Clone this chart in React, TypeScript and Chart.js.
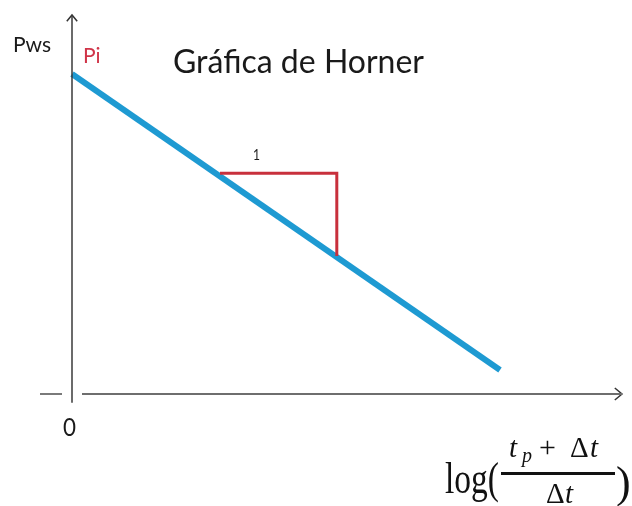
import React, { useEffect, useRef } from "react";
import { Chart, registerables } from "chart.js";

Chart.register(...registerables);

// Data units: 1 unit = 40 px on both axes, origin at the axes crossing
const X_RANGE = [-1.8, 14.0];
const Y_RANGE = [-2.8, 9.85];

// Horner straight line: Pws vs log((tp+Δt)/Δt)
const hornerX = [0, 10.7];
const hornerY = [8.0, 0.6];

// Slope triangle (red)
const triX = [3.7, 6.62, 6.62];
const triY = [5.52, 5.52, 3.45];

// Axes
const yAxisX = [0, 0];
const yAxisY = [-0.22, 9.475];
const yArrowX = [-0.13, 0, 0.13];
const yArrowY = [9.32, 9.475, 9.32];
const xAxisLeftX = [-0.8, -0.25];
const xAxisRightX = [0.25, 13.75];
const xAxisY = [0, 0];
const xArrowX = [13.57, 13.75, 13.57];
const xArrowY = [0.15, 0, -0.15];

// Text labels (anchored at data coordinates)
const labelTexts = ["Pws", "Pi", "Gráfica de Horner", "1", "0"];
const labelX = [-1.475, 0.275, 2.525, 4.525, -0.225];
const labelY = [8.55, 8.275, 8.025, 5.85, -1.05];
const formulaAnchor = [9.325, -2.475];

const zip = (xs: number[], ys: number[]) => xs.map((x, i) => ({ x, y: ys[i] }));

const BLUE = "rgb(30,154,210)";
const RED = "rgb(200,48,60)";

export default function App() {
  const ref = useRef<HTMLCanvasElement>(null);
  useEffect(() => {
    if (!ref.current) return;
    const labelStyles = [
      { font: "21px Lato", color: "#1a1a1a", w: 42 },
      { font: "21px Lato", color: "rgb(208,52,72)", w: 19 },
      { font: "32px Lato", color: "#1a1a1a", w: 269 },
      { font: "15px Lato", color: "#1a1a1a", w: 7 },
      { font: "25px Lato", color: "#1a1a1a", w: 13 },
    ];
    const textPlugin = {
      id: "texts",
      afterDatasetsDraw(chart: any) {
        const ctx = chart.ctx;
        const xs = chart.scales.x;
        const ys = chart.scales.y;
        ctx.save();
        ctx.textAlign = "left";
        ctx.textBaseline = "alphabetic";
        labelTexts.forEach((t, i) => {
          const s = labelStyles[i];
          ctx.font = s.font;
          ctx.fillStyle = s.color;
          const m = ctx.measureText(t).width;
          ctx.fillText(t, xs.getPixelForValue(labelX[i]), ys.getPixelForValue(labelY[i]), Math.min(m, s.w));
        });
        // formula log( (tp + Δt) / Δt )
        const ax = xs.getPixelForValue(formulaAnchor[0]);
        const ay = ys.getPixelForValue(formulaAnchor[1]);
        ctx.fillStyle = "#111";
        const serif = "'Liberation Serif', 'DejaVu Serif', serif";
        ctx.font = `44px ${serif}`;
        ctx.fillText("log(", ax, ay, 54);
        // numerator
        ctx.font = `italic 29px ${serif}`;
        ctx.fillText("t", ax + 64, ay - 36);
        ctx.font = `italic 20px ${serif}`;
        ctx.fillText("p", ax + 77, ay - 31);
        ctx.font = `30px ${serif}`;
        ctx.fillText("+", ax + 94, ay - 36);
        ctx.font = `29px ${serif}`;
        ctx.fillText("Δ", ax + 125, ay - 36);
        ctx.font = `italic 29px ${serif}`;
        ctx.fillText("t", ax + 145, ay - 36);
        // bar
        ctx.fillRect(ax + 56, ay - 21, 114, 3);
        // denominator
        ctx.font = `29px ${serif}`;
        ctx.fillText("Δ", ax + 101, ay + 10);
        ctx.font = `italic 29px ${serif}`;
        ctx.fillText("t", ax + 120, ay + 10);
        ctx.font = `44px ${serif}`;
        ctx.fillText(")", ax + 171, ay + 4);
        ctx.restore();
      },
    };
    const line = (data: any[], color: string, width: number) => ({
      data,
      showLine: true,
      borderColor: color,
      backgroundColor: color,
      borderWidth: width,
      pointRadius: 0,
      fill: false,
      tension: 0,
    });
    const chart = new Chart(ref.current, {
      type: "scatter",
      data: {
        datasets: [
          line(zip(xAxisLeftX, xAxisY), "#7a7a7a", 2),
          line(zip(xAxisRightX, xAxisY), "#6e6e6e", 2),
          line(zip(xArrowX, xArrowY), "#333", 1.5),
          line(zip(yAxisX, yAxisY), "#3a3a3a", 1.5),
          line(zip(yArrowX, yArrowY), "#333", 1.5),
          line(zip(triX, triY), RED, 3),
          line(zip(hornerX, hornerY), BLUE, 6),
        ],
      },
      options: {
        animation: false,
        responsive: false,
        devicePixelRatio: 1,
        layout: { padding: 0 },
        plugins: { legend: { display: false }, tooltip: { enabled: false } },
        scales: {
          x: { type: "linear", display: false, min: X_RANGE[0], max: X_RANGE[1] },
          y: { type: "linear", display: false, min: Y_RANGE[0], max: Y_RANGE[1] },
        },
      },
      plugins: [textPlugin],
    });
    return () => chart.destroy();
  }, []);
  return (
    <div style={{ position: "fixed", left: 0, top: 0, width: 632, height: 506, background: "#fff" }}>
      <canvas ref={ref} width={632} height={506} style={{ display: "block" }} />
    </div>
  );
}
